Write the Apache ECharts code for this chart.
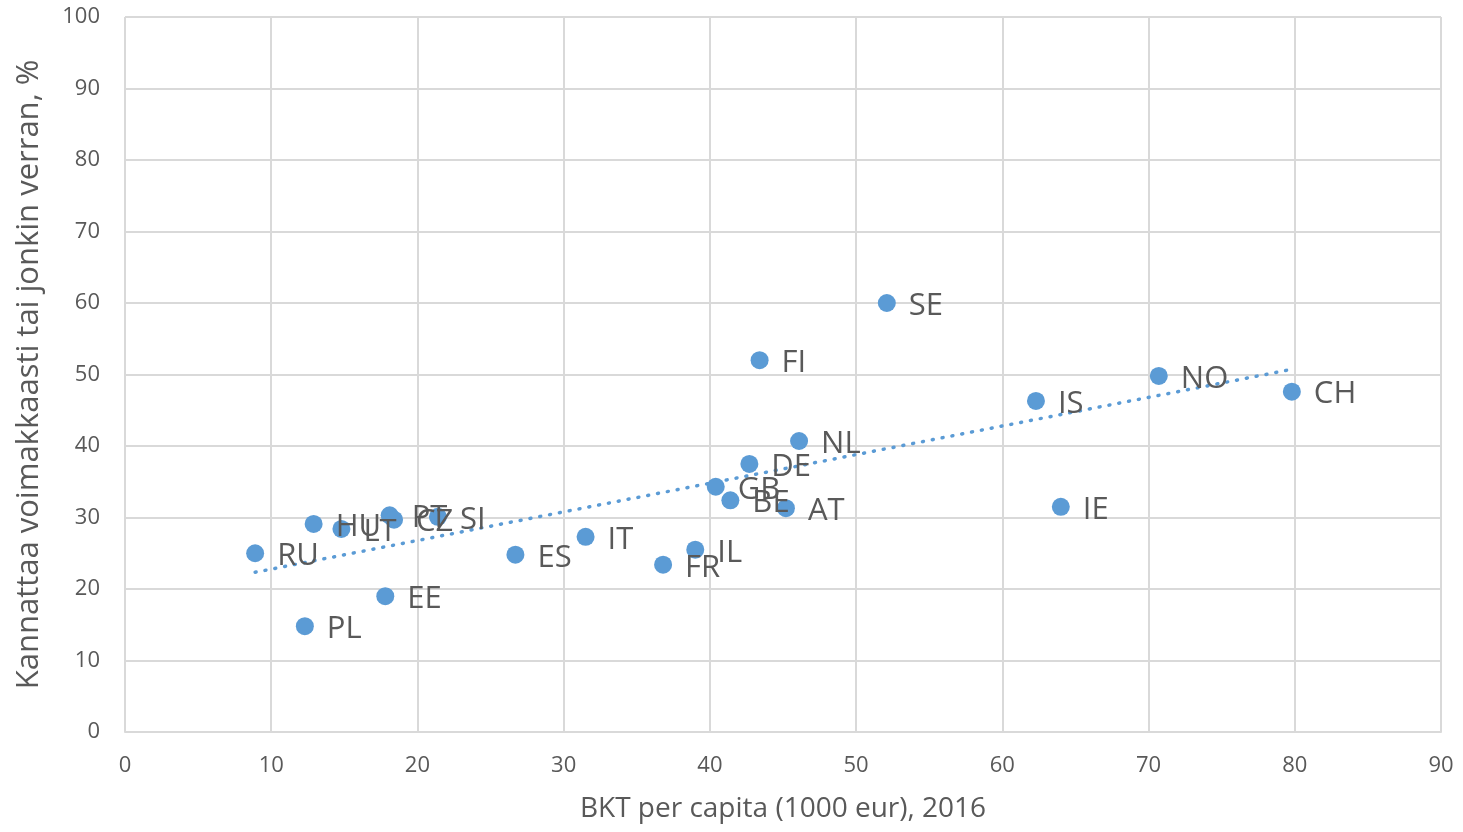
<!DOCTYPE html>
<html>
<head>
<meta charset="utf-8">
<script src="https://cdn.jsdelivr.net/npm/echarts@6/dist/echarts.min.js"></script>
<style>
  html, body { margin: 0; padding: 0; background: #fff; }
  #chart { width: 1463px; height: 832px; }
</style>
</head>
<body>
<div id="chart"></div>
<script>
// maat ja arvot luettu kuvasta
const countries = ['RU', 'PL', 'HU', 'LT', 'EE', 'PT', 'CZ', 'SI', 'ES', 'IT', 'FR', 'IL',
  'GB', 'BE', 'DE', 'AT', 'NL', 'FI', 'SE', 'IS', 'IE', 'NO', 'CH'];
const gdp = [8.9, 12.3, 12.9, 14.8, 17.8, 18.1, 18.4, 21.4, 26.7, 31.5, 36.8, 39.0,
  40.4, 41.4, 42.7, 45.2, 46.1, 43.4, 52.1, 62.3, 64.0, 70.7, 79.8];
const support = [25.0, 14.8, 29.1, 28.4, 19.0, 30.3, 29.7, 30.1, 24.8, 27.3, 23.4, 25.5,
  34.3, 32.4, 37.5, 31.3, 40.7, 52.0, 60.0, 46.3, 31.5, 49.8, 47.6];

const textColor = '#595959';
const font = 'Open Sans';

// lineaarinen trendiviiva (pienimmän neliösumman sovitus)
const n = gdp.length;
const mx = gdp.reduce((a, b) => a + b, 0) / n;
const my = support.reduce((a, b) => a + b, 0) / n;
let sxy = 0, sxx = 0;
gdp.forEach((x, i) => { sxy += (x - mx) * (support[i] - my); sxx += (x - mx) * (x - mx); });
const slope = sxy / sxx;
const icpt = my - slope * mx;
const xMin = Math.min(...gdp), xMax = Math.max(...gdp);
const trend = [[xMin, icpt + slope * xMin], [xMax, icpt + slope * xMax]];

const points = gdp.map((x, i) => ({ value: [x, support[i]], name: countries[i] }));

const myChart = echarts.init(document.getElementById('chart'));
const option = {
  animation: false,
  grid: { left: 125, right: 22, top: 17, bottom: 100 },
  xAxis: {
    type: 'value', min: 0, max: 90, interval: 10,
    name: 'BKT per capita (1000 eur), 2016',
    nameLocation: 'middle', nameGap: 63,
    nameTextStyle: { fontFamily: font, fontSize: 28, color: textColor },
    axisLine: { show: true, lineStyle: { color: '#d9d9d9', width: 2 } },
    axisTick: { show: false },
    axisLabel: { fontFamily: font, fontSize: 22, color: textColor, margin: 23 },
    splitLine: { show: true, lineStyle: { color: '#d9d9d9', width: 2 } }
  },
  yAxis: {
    type: 'value', min: 0, max: 100, interval: 10,
    name: 'Kannattaa voimakkaasti tai jonkin verran, %',
    nameLocation: 'middle', nameGap: 80,
    nameTextStyle: { fontFamily: font, fontSize: 31, color: textColor },
    axisLine: { show: false },
    axisTick: { show: false },
    axisLabel: { fontFamily: font, fontSize: 22, color: textColor, margin: 25 },
    splitLine: { show: true, lineStyle: { color: '#d9d9d9', width: 2 } }
  },
  series: [
    {
      type: 'line',
      data: trend,
      symbol: 'none',
      silent: true,
      lineStyle: { color: '#5B9BD5', width: 3.5, type: [1, 9], cap: 'round' },
      z: 1
    },
    {
      type: 'scatter',
      data: points,
      symbolSize: 18,
      itemStyle: { color: '#5B9BD5', opacity: 1 },
      label: {
        show: true,
        position: 'right',
        distance: 13,
        formatter: p => p.name,
        fontFamily: font,
        fontSize: 31,
        color: textColor,
        offset: [0, 3]
      },
      z: 2
    }
  ]
};
myChart.setOption(option);
window.addEventListener('resize', function () {
  myChart.resize();
});
</script>
</body>
</html>
